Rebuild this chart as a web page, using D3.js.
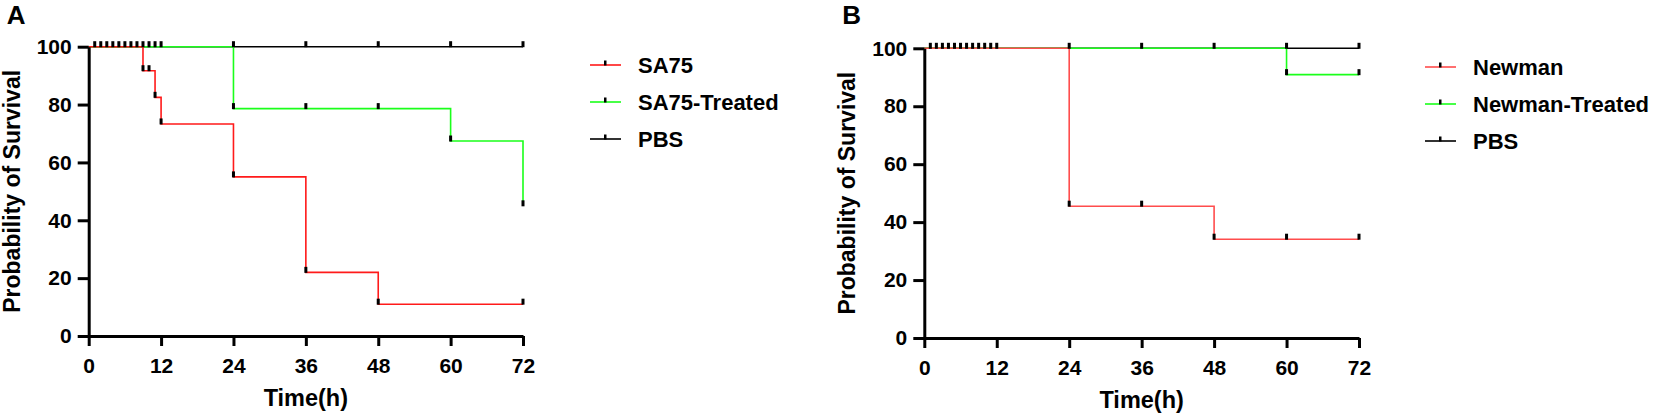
<!DOCTYPE html>
<html>
<head>
    <title>Survival curves</title>
    <style>
        body { margin: 0; background: #fff; }
        text { font-family: Arial, "Liberation Sans", sans-serif; font-weight: bold; fill: #000; }
    </style>
</head>
<body>
    <script src="https://d3js.org/d3.v7.min.js"></script>
    <script>
        // Axis ticks
        const hourTicks = [0, 12, 24, 36, 48, 60, 72];
        const survivalTicks = [0, 20, 40, 60, 80, 100];

        // Panel A series (time in h, survival in %)
        const sa75Time = [0, 9, 11, 12, 24, 36, 48, 72];
        const sa75Surv = [100, 91.7, 82.5, 73.3, 55, 22, 11, 11];
        const sa75CensorTime = [9, 10, 11, 12, 24, 36, 48, 72];
        const sa75CensorSurv = [91.7, 91.7, 82.5, 73.3, 55, 22, 11, 11];

        const sa75TreatedTime = [0, 24, 60, 72];
        const sa75TreatedSurv = [100, 78.6, 67.4, 45];
        const sa75TreatedCensorTime = [24, 36, 48, 60, 72];
        const sa75TreatedCensorSurv = [78.6, 78.6, 78.6, 67.4, 45];

        const pbsATime = [0, 72];
        const pbsASurv = [100, 100];
        const pbsACensorTime = [1, 2, 3, 4, 5, 6, 7, 8, 9, 10, 11, 12, 24, 36, 48, 60, 72];

        // Panel B series
        const newmanTime = [0, 24, 48, 72];
        const newmanSurv = [100, 45.5, 34.1, 34.1];
        const newmanCensorTime = [24, 36, 48, 60, 72];
        const newmanCensorSurv = [45.5, 45.5, 34.1, 34.1, 34.1];

        const newmanTreatedTime = [0, 60, 72];
        const newmanTreatedSurv = [100, 90.9, 90.9];
        const newmanTreatedCensorTime = [24, 36, 48, 60, 60, 72];
        const newmanTreatedCensorSurv = [100, 100, 100, 100, 90.9, 90.9];

        const pbsBTime = [0, 72];
        const pbsBSurv = [100, 100];
        const pbsBCensorTime = [1, 2, 3, 4, 5, 6, 7, 8, 9, 10, 11, 12, 72];

        const zip = (ts, vs) => ts.map((t, i) => ({ t: t, v: vs[i] }));

        const width = 1654, height = 418;
        const svg = d3.select('body').append('svg')
            .attr('width', width)
            .attr('height', height);
        svg.append('rect').attr('width', width).attr('height', height).attr('fill', '#fff');

        function drawPanel(p) {
            const x = d3.scaleLinear().domain([0, 72]).range([p.x0, p.x1]);
            const y = d3.scaleLinear().domain([0, 100]).range([p.y0, p.y1]);
            const g = svg.append('g');

            // curves, drawn PBS first so the infected group ends on top
            const line = d3.line().curve(d3.curveStepAfter).x(d => x(d.t)).y(d => y(d.v));
            p.series.slice().reverse().forEach(s => {
                g.append('path')
                    .datum(s.points)
                    .attr('d', line)
                    .attr('fill', 'none')
                    .attr('stroke', s.color)
                    .attr('stroke-width', 1.6);
            });
            // censor marks
            p.series.slice().reverse().forEach(s => {
                g.selectAll(null)
                    .data(s.censor)
                    .enter()
                    .append('rect')
                    .attr('x', d => x(d.t) - 1.5)
                    .attr('y', d => y(d.v) - 5.5)
                    .attr('width', 3)
                    .attr('height', 6)
                    .attr('fill', '#000');
            });

            // axes
            const xAxis = g.append('g')
                .attr('transform', `translate(0,${p.y0})`)
                .call(d3.axisBottom(x).tickValues(hourTicks).tickSize(10).tickSizeOuter(0).tickPadding(12));
            const yAxis = g.append('g')
                .attr('transform', `translate(${p.x0},0)`)
                .call(d3.axisLeft(y).tickValues(survivalTicks).tickSize(11).tickSizeOuter(0).tickPadding(6));
            [xAxis, yAxis].forEach(a => {
                a.select('.domain').attr('stroke', '#000').attr('stroke-width', 3);
                a.selectAll('.tick line').attr('stroke', '#000').attr('stroke-width', 3);
                a.selectAll('.tick text')
                    .attr('font-size', 21)
                    .attr('font-family', 'Arial, "Liberation Sans", sans-serif')
                    .attr('font-weight', 'bold')
                    .attr('fill', '#000');
            });

            // titles
            g.append('text')
                .attr('x', (p.x0 + p.x1) / 2)
                .attr('y', p.y0 + 70)
                .attr('text-anchor', 'middle')
                .attr('font-size', 23.5)
                .text('Time(h)');
            g.append('text')
                .attr('transform', `translate(${p.x0 - 69},${(p.y0 + p.y1) / 2}) rotate(-90)`)
                .attr('text-anchor', 'middle')
                .attr('font-size', 23)
                .text('Probability of Survival');
            g.append('text')
                .attr('x', p.x0 - 82)
                .attr('y', 24)
                .attr('font-size', 26)
                .text(p.letter);

            // legend
            const lg = g.append('g').attr('transform', `translate(${p.legendX},${p.legendY})`);
            p.series.forEach((s, i) => {
                const row = lg.append('g').attr('transform', `translate(0,${i * 37})`);
                row.append('line')
                    .attr('x1', 0).attr('x2', 31)
                    .attr('y1', 0).attr('y2', 0)
                    .attr('stroke', s.color)
                    .attr('stroke-width', 1.6);
                row.append('rect')
                    .attr('x', 14).attr('y', -4.5)
                    .attr('width', 2.5).attr('height', 5)
                    .attr('fill', '#000');
                row.append('text')
                    .attr('x', 48)
                    .attr('dy', '0.36em')
                    .attr('font-size', 22)
                    .text(s.name);
            });
        }

        drawPanel({
            letter: 'A',
            x0: 88.7, x1: 523, y0: 336, y1: 46.7,
            legendX: 590, legendY: 65,
            series: [
                { name: 'SA75', color: '#ff1a1a', points: zip(sa75Time, sa75Surv), censor: zip(sa75CensorTime, sa75CensorSurv) },
                { name: 'SA75-Treated', color: '#1aff1a', points: zip(sa75TreatedTime, sa75TreatedSurv), censor: zip(sa75TreatedCensorTime, sa75TreatedCensorSurv) },
                { name: 'PBS', color: '#000', points: zip(pbsATime, pbsASurv), censor: pbsACensorTime.map(t => ({ t: t, v: 100 })) }
            ]
        });

        drawPanel({
            letter: 'B',
            x0: 924.3, x1: 1359, y0: 338, y1: 48.3,
            legendX: 1425, legendY: 67,
            series: [
                { name: 'Newman', color: '#ff4d4d', points: zip(newmanTime, newmanSurv), censor: zip(newmanCensorTime, newmanCensorSurv) },
                { name: 'Newman-Treated', color: '#1aff1a', points: zip(newmanTreatedTime, newmanTreatedSurv), censor: zip(newmanTreatedCensorTime, newmanTreatedCensorSurv) },
                { name: 'PBS', color: '#000', points: zip(pbsBTime, pbsBSurv), censor: pbsBCensorTime.map(t => ({ t: t, v: 100 })) }
            ]
        });
    </script>
</body>
</html>
